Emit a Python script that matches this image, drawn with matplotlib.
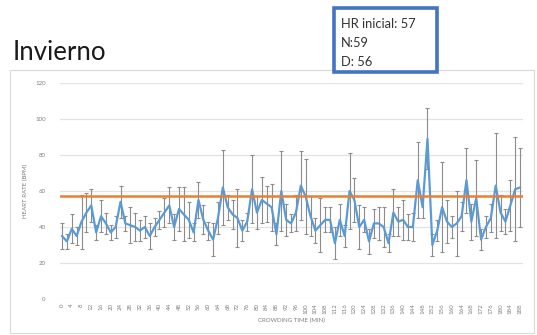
import matplotlib.pyplot as plt
from matplotlib.patches import Rectangle

# heart rate during crowding, sampled every 2 minutes
minutes = list(range(0, 190, 2))
hr_mean = [35, 32, 39, 35, 43, 48, 52, 37, 46, 42,
           37, 40, 54, 42, 41, 40, 38, 40, 35, 40,
           44, 48, 52, 40, 50, 47, 44, 37, 55, 44,
           38, 33, 45, 62, 51, 47, 45, 38, 43, 61,
           48, 55, 53, 51, 36, 60, 44, 42, 48, 63,
           57, 46, 38, 41, 44, 44, 31, 44, 35, 60,
           55, 40, 44, 32, 42, 42, 40, 31, 48, 43,
           44, 40, 40, 66, 51, 89, 30, 38, 51, 43,
           40, 42, 46, 66, 43, 56, 33, 40, 45, 63,
           48, 43, 52, 61, 62]
hr_sd = [7, 4, 8, 5, 15, 11, 9, 4, 9, 6,
         4, 6, 9, 4, 10, 8, 6, 6, 7, 5,
         5, 8, 10, 7, 12, 15, 10, 5, 10, 8,
         5, 9, 9, 21, 7, 8, 16, 6, 5, 19,
         9, 13, 10, 13, 6, 22, 9, 5, 10, 19,
         21, 11, 7, 15, 7, 7, 9, 9, 6, 21,
         12, 12, 7, 7, 8, 9, 11, 5, 13, 8,
         11, 7, 8, 21, 6, 17, 6, 6, 25, 12,
         6, 18, 8, 18, 10, 21, 6, 6, 8, 29,
         10, 7, 14, 29, 22]
hr_initial = 57

fig = plt.figure(figsize=(5.37, 3.35), dpi=100)
plt.rcParams['font.family'] = ['Lato', 'DejaVu Sans']

# light frame around the chart area
fig.patches.append(Rectangle((10 / 537, 2 / 335), 524 / 537, 263 / 335,
                             transform=fig.transFigure, fill=False,
                             edgecolor='#D9D9D9', linewidth=0.8))

ax = fig.add_axes([0.111, 0.1075, 0.862, 0.6445])

ax.errorbar(minutes, hr_mean, yerr=hr_sd, color='#5B9BD5', linewidth=1.6,
            ecolor='#8C8C8C', elinewidth=0.8, capsize=1.5, capthick=0.8,
            zorder=3)
ax.axhline(hr_initial, color='#ED7D31', linewidth=1.8, zorder=4)

ax.set_xlim(-1, 189)
ax.set_ylim(0, 120)
ax.set_yticks(range(0, 121, 20))
ax.set_xticks(minutes[::2])
ax.set_xticklabels([str(m) for m in minutes[::2]], rotation=90)
ax.tick_params(axis='both', length=0, labelsize=4.4, colors='#7F7F7F')
ax.tick_params(axis='y', pad=10)
ax.tick_params(axis='x', pad=3)
ax.grid(axis='y', color='#E3E3E3', linewidth=0.9)
ax.set_axisbelow(True)
for s in ax.spines.values():
    s.set_visible(False)

ax.set_ylabel('HEART RATE (BPM)', fontsize=4.4, color='#7F7F7F', labelpad=5)
ax.set_xlabel('CROWDING TIME (MIN)', fontsize=4.4, color='#7F7F7F', labelpad=3)

fig.text(13 / 537, 1 - 52 / 335, 'Invierno', fontsize=18.5, va='center',
         ha='left', color='#1A1A1A')

# summary box
fig.patches.append(Rectangle((334 / 537, 1 - 72 / 335), 103 / 537, 64 / 335,
                             transform=fig.transFigure, facecolor='white',
                             edgecolor='#4472C4', linewidth=2.6))
for txt, yy in [('HR inicial: 57', 24), ('N:59', 43), ('D: 56', 62)]:
    fig.text(341 / 537, 1 - yy / 335, txt, fontsize=9.3, va='center',
             ha='left', color='#333333')

fig.savefig('out.png', dpi=100)
